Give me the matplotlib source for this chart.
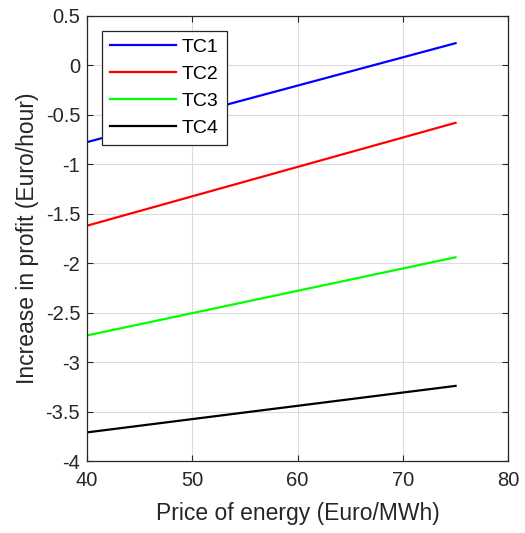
import matplotlib.pyplot as plt

# Price of energy (Euro/MWh) and profit increase (Euro/hour) per case
price = [40, 75]
tc1 = [-0.775, 0.225]
tc2 = [-1.62, -0.58]
tc3 = [-2.73, -1.94]
tc4 = [-3.71, -3.24]

series = [("TC1", tc1, "#0000ff"), ("TC2", tc2, "#ff0000"),
          ("TC3", tc3, "#00ff00"), ("TC4", tc4, "#000000")]

plt.rcParams['font.family'] = ['Liberation Sans', 'DejaVu Sans']

fig = plt.figure(figsize=(5.25, 5.33), dpi=100)
ax = fig.add_axes([0.166, 0.135, 0.802, 0.835])

for name, vals, col in series:
    ax.plot(price, vals, color=col, linewidth=1.6, label=name)

ax.set_xlim(40, 80)
ax.set_ylim(-4, 0.5)
ax.set_xticks([40, 50, 60, 70, 80])
ax.set_yticks([-4, -3.5, -3, -2.5, -2, -1.5, -1, -0.5, 0, 0.5])
ax.set_yticklabels(['-4', '-3.5', '-3', '-2.5', '-2', '-1.5', '-1', '-0.5', '0', '0.5'])
ax.grid(True, color='#dcdcdc', linewidth=0.8)
ax.set_axisbelow(True)
ax.tick_params(direction='in', length=4, top=True, right=True, labelsize=14.5,
               colors='#262626', pad=5)
ax.tick_params(axis='x', pad=7)
for s in ax.spines.values():
    s.set_color('#262626')
    s.set_linewidth(0.9)

ax.set_xlabel("Price of energy (Euro/MWh)", fontsize=16.5, color='#262626', labelpad=9)
ax.set_ylabel("Increase in profit (Euro/hour)", fontsize=16.5, color='#262626', labelpad=5)

leg = ax.legend(loc='upper left', bbox_to_anchor=(0.036, 0.967), fontsize=14,
                handlelength=3.4, frameon=True, fancybox=False, borderaxespad=0,
                labelspacing=0.48, handletextpad=0.3, framealpha=1,
                borderpad=0.4)
leg.get_frame().set_edgecolor('#262626')
leg.get_frame().set_linewidth(0.9)

fig.savefig("out.png", dpi=100)
